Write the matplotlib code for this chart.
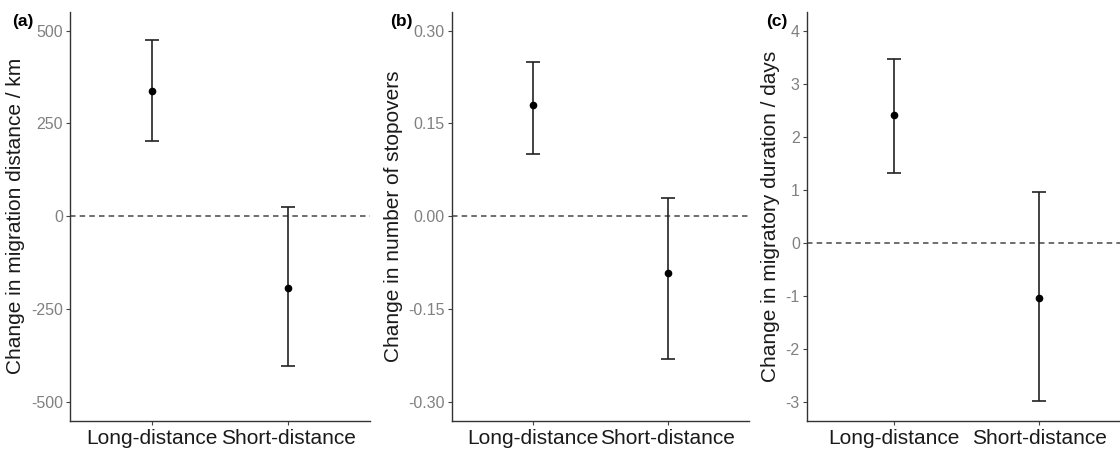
import numpy as np
import matplotlib.pyplot as plt

plt.rcParams['font.family'] = ['Liberation Sans', 'DejaVu Sans']

# data
groups = ['Long-distance', 'Short-distance']

dist_mean = [336, -192]
dist_low = [203, -404]
dist_high = [474, 24]

stop_mean = [0.180, -0.091]
stop_low = [0.100, -0.231]
stop_high = [0.250, 0.030]

dur_mean = [2.40, -1.05]
dur_low = [1.32, -2.98]
dur_high = [3.47, 0.96]

panels = [
    ('(a)', 'Change in migration distance / km', dist_mean, dist_low, dist_high,
     [-500, -250, 0, 250, 500], ['-500', '-250', '0', '250', '500'], (-550, 550)),
    ('(b)', 'Change in number of stopovers', stop_mean, stop_low, stop_high,
     [-0.30, -0.15, 0.0, 0.15, 0.30], ['-0.30', '-0.15', '0.00', '0.15', '0.30'], (-0.33, 0.33)),
    ('(c)', 'Change in migratory duration / days', dur_mean, dur_low, dur_high,
     [-3, -2, -1, 0, 1, 2, 3, 4], ['-3', '-2', '-1', '0', '1', '2', '3', '4'], (-3.35, 4.35)),
]

# axes boxes in figure fractions (left, width), plus y-label x offsets
boxes = [(0.0625, 0.268), (0.4033, 0.2654), (0.7203, 0.2857)]
label_x = [-0.15, -0.164, -0.083]
tag_x = [0.011, 0.348, 0.684]

fig = plt.figure(figsize=(11.2, 4.53), dpi=100)
bottom, height = 0.0717, 0.9018

x = np.arange(1, len(groups) + 1)
for i, (tag, ylab, mean, low, high, yt, ytl, ylim) in enumerate(panels):
    left, width = boxes[i]
    ax = fig.add_axes([left, bottom, width, height])
    mean = np.array(mean)
    err = [mean - np.array(low), np.array(high) - mean]
    ax.axhline(0, color='#555555', lw=1.2, ls=(0, (3.3, 2.5)), zorder=1)
    ax.errorbar(x, mean, yerr=err, fmt='o', color='black', ecolor='#222222',
                elinewidth=1.2, capsize=5, capthick=1.2, markersize=4.5, zorder=3)
    ax.set_xlim(0.4, 2.6)
    ax.set_ylim(*ylim)
    ax.set_xticks(x)
    ax.set_xticklabels(groups, fontsize=15, color='#1a1a1a')
    ax.set_yticks(yt)
    ax.set_yticklabels(ytl, fontsize=11.5, color='#808080')
    ax.tick_params(axis='both', length=3, width=0.8, color='#444444', pad=2)
    ax.tick_params(axis='x', pad=3)
    for s in ['top', 'right']:
        ax.spines[s].set_visible(False)
    for s in ['left', 'bottom']:
        ax.spines[s].set_color('#333333')
        ax.spines[s].set_linewidth(1.0)
    ax.set_ylabel(ylab, fontsize=15, color='#1a1a1a')
    ax.yaxis.set_label_coords(label_x[i], 0.5)
    fig.text(tag_x[i], 0.953, tag, fontsize=12.5, fontweight='bold', ha='left', va='center')

fig.savefig('out.png', dpi=100)
